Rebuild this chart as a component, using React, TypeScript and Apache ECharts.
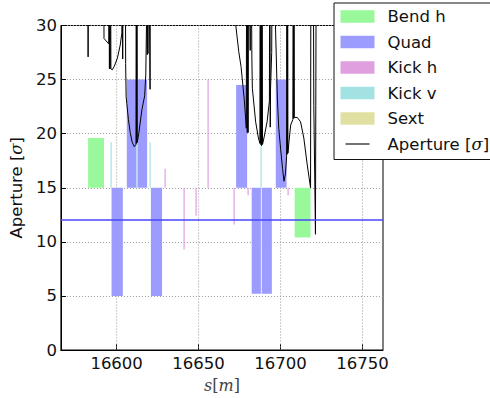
import React, { useEffect, useRef } from 'react';
import * as echarts from 'echarts';

// Axis ranges and ticks
const xMin = 16566;
const xMax = 16762.5;
const xTicks = [16600, 16650, 16700, 16750];
const yMin = 0;
const yMax = 30;
const yStep = 5;
const refLevel = 12;

// Elements: [sStart, sEnd, yFrom, yTo]
const bendH: number[][] = [
  [16582.6, 16592.3, 15, 19.6],
  [16708.6, 16718.3, 15, 10.4],
];
const quads: number[][] = [
  [16596.9, 16603.8, 15, 5],
  [16606.2, 16612.1, 15, 25],
  [16612.7, 16618.6, 15, 25],
  [16620.9, 16627.7, 15, 5],
  [16672.9, 16679.6, 15, 24.5],
  [16682.4, 16688.0, 15, 5.2],
  [16688.5, 16694.7, 15, 5.2],
  [16697.1, 16703.7, 15, 25],
];
const kickH: number[][] = [
  [16629.6, 16630.0, 15, 16.75],
  [16641.1, 16641.5, 15, 9.3],
  [16648.3, 16648.7, 15, 12.4],
  [16655.6, 16656.0, 15, 25],
  [16671.1, 16671.5, 15, 11.6],
  [16679.8, 16680.2, 15, 14.3],
  [16704.3, 16704.7, 15, 14.3],
];
const kickV: number[][] = [
  [16596.3, 16596.7, 15, 19.2],
  [16612.2, 16612.6, 15, 19.2],
  [16620.2, 16620.6, 15, 19.2],
  [16688.0, 16688.5, 15, 20],
];
const sext: number[][] = [];

// Aperture [sigma] along s (values above 30 are off the chart)
const aperture: number[][] = [
  [16578, 45],
  [16582.3, 45], [16582.6, 27.1], [16583.0, 45],
  [16591.9, 45], [16592.3, 28.8], [16595.2, 28.3], [16595.4, 45],
  [16595.6, 26.0], [16595.8, 45], [16596.0, 26.0], [16596.2, 45],
  [16596.5, 26.0], [16597.3, 25.9], [16598.5, 26.2], [16600.5, 27.0], [16602.2, 28.2], [16603.2, 29.3],
  [16603.5, 45], [16603.7, 26.9], [16603.9, 45],
  [16605.2, 45], [16605.5, 26.5], [16605.8, 23.4], [16606.2, 22.8], [16607.2, 21.3], [16608.3, 20.1],
  [16609.5, 19.2], [16610.8, 18.8], [16611.8, 19.0],
  [16612.0, 45], [16612.2, 19.1], [16612.4, 45], [16612.6, 19.2],
  [16613.5, 20.0], [16615.4, 22.2], [16617.1, 23.5], [16617.8, 25.5], [16618.2, 30], [16618.4, 45],
  [16618.7, 27.3], [16618.9, 45], [16619.1, 27.4], [16619.3, 45],
  [16620.4, 24.1], [16620.7, 45],
  [16671.8, 45], [16672.7, 30], [16674.5, 27.6], [16675.9, 26.2], [16677.9, 23.1], [16679.1, 20.5],
  [16679.4, 45], [16679.7, 20.1], [16680.0, 45], [16680.2, 20.1], [16680.5, 45],
  [16681.5, 27.7], [16681.8, 45],
  [16682.2, 45], [16682.5, 27.0], [16682.8, 24.2], [16684.8, 21.1], [16686.5, 19.6], [16687.4, 19.1],
  [16687.6, 45], [16687.9, 19.0], [16688.1, 45], [16688.4, 18.9], [16688.7, 45], [16689.0, 19.0],
  [16690.0, 19.7], [16691.8, 21.1], [16693.2, 23.0], [16693.5, 45], [16693.7, 20.6], [16693.9, 24.2],
  [16694.6, 27.5], [16695.1, 45],
  [16696.5, 45], [16696.9, 30], [16698.1, 23.1], [16698.9, 20.5], [16700.1, 18.5], [16701.2, 16.8],
  [16702.1, 15.6], [16703.0, 16.3], [16703.7, 17.9],
  [16703.9, 45], [16704.1, 18.1], [16704.3, 45], [16704.5, 18.2],
  [16705.3, 19.5], [16706.2, 20.8], [16707.5, 21.3], [16707.8, 45], [16708.0, 21.4], [16708.2, 45], [16708.4, 21.5],
  [16710.2, 21.5], [16712.2, 21.1], [16714.2, 19.6], [16716.3, 17.1], [16718.3, 15.0], [16718.6, 45],
  [16719.8, 45], [16720.3, 22.6], [16721.3, 10.7], [16721.9, 45], [16730, 45],
];

const FONT = 'DejaVu Sans';
const FS = 16.5;

const colors = {
  bend: '#99f899',
  quad: '#9c9cff',
  kickH: '#e0a0e0',
  kickV: '#a2e2e2',
  sext: '#e0e0a2',
};

function rectRender(params: any, api: any) {
  const a = api.coord([api.value(0), api.value(2)]);
  const b = api.coord([api.value(1), api.value(3)]);
  let x = Math.min(a[0], b[0]);
  let w = Math.abs(b[0] - a[0]);
  const y = Math.min(a[1], b[1]);
  const h = Math.abs(b[1] - a[1]);
  if (w < 1.2) {
    x = Math.round((a[0] + b[0]) / 2) - 0.5;
    w = 1.2;
  }
  return {
    type: 'rect',
    shape: { x, y, width: w, height: h },
    style: { fill: api.visual('color') },
  };
}

function vGridRender(params: any, api: any) {
  const x = api.coord([api.value(0), 0])[0];
  const cs = params.coordSys;
  return {
    type: 'line',
    shape: { x1: x, y1: cs.y, x2: x, y2: cs.y + cs.height },
    style: { stroke: '#9a9a9a', lineWidth: 1, lineDash: [1, 2] },
  };
}

const elementSeries = (name: string, data: number[][], color: string) => ({
  type: 'custom',
  name,
  data,
  renderItem: rectRender,
  encode: { x: [0, 1], y: [2, 3] },
  itemStyle: { color },
  z: 2,
  clip: true,
  silent: true,
});

export default function App() {
  const ref = useRef<HTMLDivElement>(null);
  useEffect(() => {
    document.body.style.margin = '0';
    const chart = echarts.init(ref.current!, null, { renderer: 'svg' });
    const option: any = {
      animation: false,
      backgroundColor: '#ffffff',
      textStyle: { fontFamily: FONT },
      grid: {
        left: 58.3,
        right: 107,
        top: 25.5,
        bottom: 47,
        show: true,
        borderColor: '#000',
        borderWidth: 1,
        backgroundColor: 'transparent',
      },
      legend: {
        orient: 'vertical',
        left: 334,
        top: 3,
        padding: [5, 40, 7, 6.5],
        itemWidth: 34,
        itemHeight: 12.5,
        itemGap: 8.5,
        borderColor: '#111',
        borderWidth: 1,
        backgroundColor: '#fff',
        textStyle: {
          fontFamily: FONT,
          fontSize: FS,
          color: '#111',
          padding: [0, 0, 0, 8],
          rich: {
            n: { fontFamily: FONT, fontSize: FS, color: '#111' },
            i: { fontFamily: 'DejaVu Serif', fontStyle: 'italic', fontSize: FS, color: '#111' },
          },
        },
        formatter: (name: string) =>
          name === 'Aperture [σ]' ? '{n|Aperture [}{i|σ}{n|]}' : name,
        data: [
          { name: 'Bend h', icon: 'rect' },
          { name: 'Quad', icon: 'rect' },
          { name: 'Kick h', icon: 'rect' },
          { name: 'Kick v', icon: 'rect' },
          { name: 'Sext', icon: 'rect' },
          {
            name: 'Aperture [σ]',
            icon: 'path://M0,0 M34,12.5 M5,5.5 L29,5.5 L29,7 L5,7 Z',
            itemStyle: { color: '#444' },
          },
        ],
        selectedMode: false,
      },
      xAxis: {
        type: 'value',
        min: xMin,
        max: xMax,
        name: '{i|s}{n|[}{i|m}{n|]}',
        nameLocation: 'middle',
        nameGap: 27,
        nameTextStyle: {
          rich: {
            i: { fontFamily: 'DejaVu Serif', fontStyle: 'italic', fontSize: 16, color: '#444' },
            n: { fontFamily: 'DejaVu Serif', fontSize: 16, color: '#444' },
          },
        },
        axisLine: { show: true, lineStyle: { color: '#000', width: 1 } },
        axisTick: { show: true, inside: true, length: 6, customValues: xTicks, lineStyle: { color: '#000' } },
        axisLabel: {
          customValues: xTicks,
          formatter: (v: number) => String(v),
          fontFamily: FONT,
          fontSize: FS,
          color: '#111',
          margin: 5,
        },
        splitLine: { show: false },
      },
      yAxis: {
        type: 'value',
        min: yMin,
        max: yMax,
        interval: yStep,
        name: '{n|Aperture [}{i|σ}{n|]}',
        nameLocation: 'middle',
        nameGap: 27,
        nameRotate: 90,
        nameTextStyle: {
          rich: {
            n: { fontFamily: FONT, fontSize: FS, color: '#111' },
            i: { fontFamily: 'DejaVu Serif', fontStyle: 'italic', fontSize: FS, color: '#111' },
          },
        },
        axisLine: { show: true, lineStyle: { color: '#000', width: 1 } },
        axisTick: { show: true, inside: true, length: 5, lineStyle: { color: '#000' } },
        axisLabel: { fontFamily: FONT, fontSize: FS, color: '#111', margin: 4 },
        splitLine: { show: true, lineStyle: { color: '#9a9a9a', width: 1, type: [1, 2] } },
      },
      series: [
        {
          type: 'custom',
          name: 'grid-x',
          data: xTicks.map((v) => [v, 0]),
          renderItem: vGridRender,
          encode: { x: 0, y: 1 },
          z: 1,
          silent: true,
        },
        elementSeries('Bend h', bendH, colors.bend),
        elementSeries('Quad', quads, colors.quad),
        elementSeries('Kick h', kickH, colors.kickH),
        elementSeries('Kick v', kickV, colors.kickV),
        elementSeries('Sext', sext, colors.sext),
        {
          type: 'line',
          name: 'Aperture [σ]',
          data: aperture,
          showSymbol: false,
          symbol: 'none',
          clip: true,
          z: 3,
          silent: true,
          itemStyle: { color: '#444' },
          lineStyle: { color: '#000', width: 1 },
          markLine: {
            silent: true,
            symbol: 'none',
            label: { show: false },
            lineStyle: { color: '#4646ff', width: 1.5, type: 'solid' },
            data: [{ yAxis: refLevel }],
          },
        },
      ],
    };
    chart.setOption(option);
    return () => chart.dispose();
  }, []);
  return <div ref={ref} style={{ width: 490, height: 398 }} />;
}
